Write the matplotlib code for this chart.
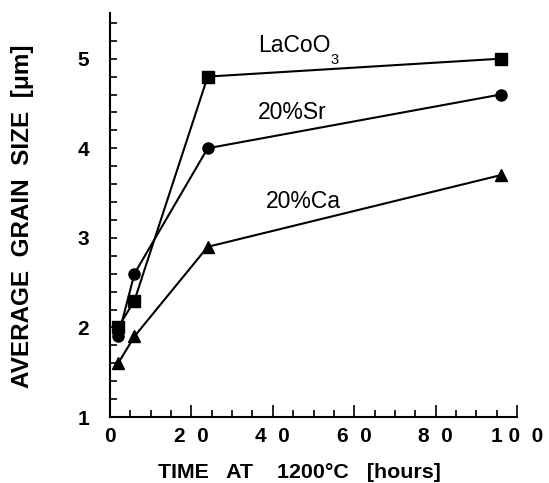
import matplotlib
matplotlib.use("Agg")
import matplotlib.pyplot as plt
from matplotlib.ticker import MultipleLocator

# sintering time at 1200 C (hours)
hours = [2, 6, 24, 96]
lacoo3 = [2.0, 2.3, 4.8, 5.0]
sr20 = [1.9, 2.6, 4.0, 4.6]
ca20 = [1.6, 1.9, 2.9, 3.7]

x_ticks = [0, 20, 40, 60, 80, 100]
x_ticklabels = ["0", "2  0", "4  0", "6  0", "8  0", "1 0  0"]
y_ticks = [1, 2, 3, 4, 5]

plt.rcParams["font.family"] = ["Liberation Sans", "DejaVu Sans"]

fig = plt.figure(figsize=(5.49, 4.83), dpi=100)
ax = fig.add_axes([0.2004, 0.1366, 0.7413, 0.8365])

ax.plot(hours, lacoo3, color="black", lw=1.5, marker="s", ms=8, clip_on=False)
ax.plot(hours, sr20, color="black", lw=1.5, marker="o", ms=8, clip_on=False)
ax.plot(hours, ca20, color="black", lw=1.5, marker="^", ms=8.5, clip_on=False)

# curve labels
ax.text(0.364, 0.903, "LaCoO", transform=ax.transAxes, fontsize=16.5, va="baseline")
ax.text(0.542, 0.874, "3", transform=ax.transAxes, fontsize=10.5, va="baseline")
ax.text(0.364, 0.737, "20%Sr", transform=ax.transAxes, fontsize=16.5, va="baseline")
ax.text(0.383, 0.518, "20%Ca", transform=ax.transAxes, fontsize=16.5, va="baseline")

ax.set_xlim(0, 100)
ax.set_ylim(1, 5.51)
ax.set_xticks(x_ticks)
ax.set_xticklabels(x_ticklabels)
ax.xaxis.set_minor_locator(MultipleLocator(5))
ax.set_yticks(y_ticks)
ax.yaxis.set_minor_locator(MultipleLocator(0.2))

ax.spines["top"].set_visible(False)
ax.spines["right"].set_visible(False)
ax.spines["left"].set_linewidth(1.5)
ax.spines["bottom"].set_linewidth(1.5)

ax.tick_params(axis="both", which="both", direction="in", width=1.2, labelsize=15)
ax.tick_params(axis="x", which="major", length=8.5, pad=7)
ax.tick_params(axis="x", which="minor", length=5)
ax.tick_params(axis="y", which="both", length=5, pad=15)
for lab in ax.get_xticklabels() + ax.get_yticklabels():
    lab.set_fontweight("bold")

fig.text(0.288, 0.0104, "TIME   AT    1200°C   [hours]", fontsize=15.4,
         fontweight="bold", ha="left", va="baseline")
fig.text(0.0401, 0.5518, "AVERAGE  GRAIN  SIZE  [μm]", fontsize=17.5,
         fontweight="bold", rotation=90, ha="center", va="center")

fig.savefig("out.png", dpi=100)
